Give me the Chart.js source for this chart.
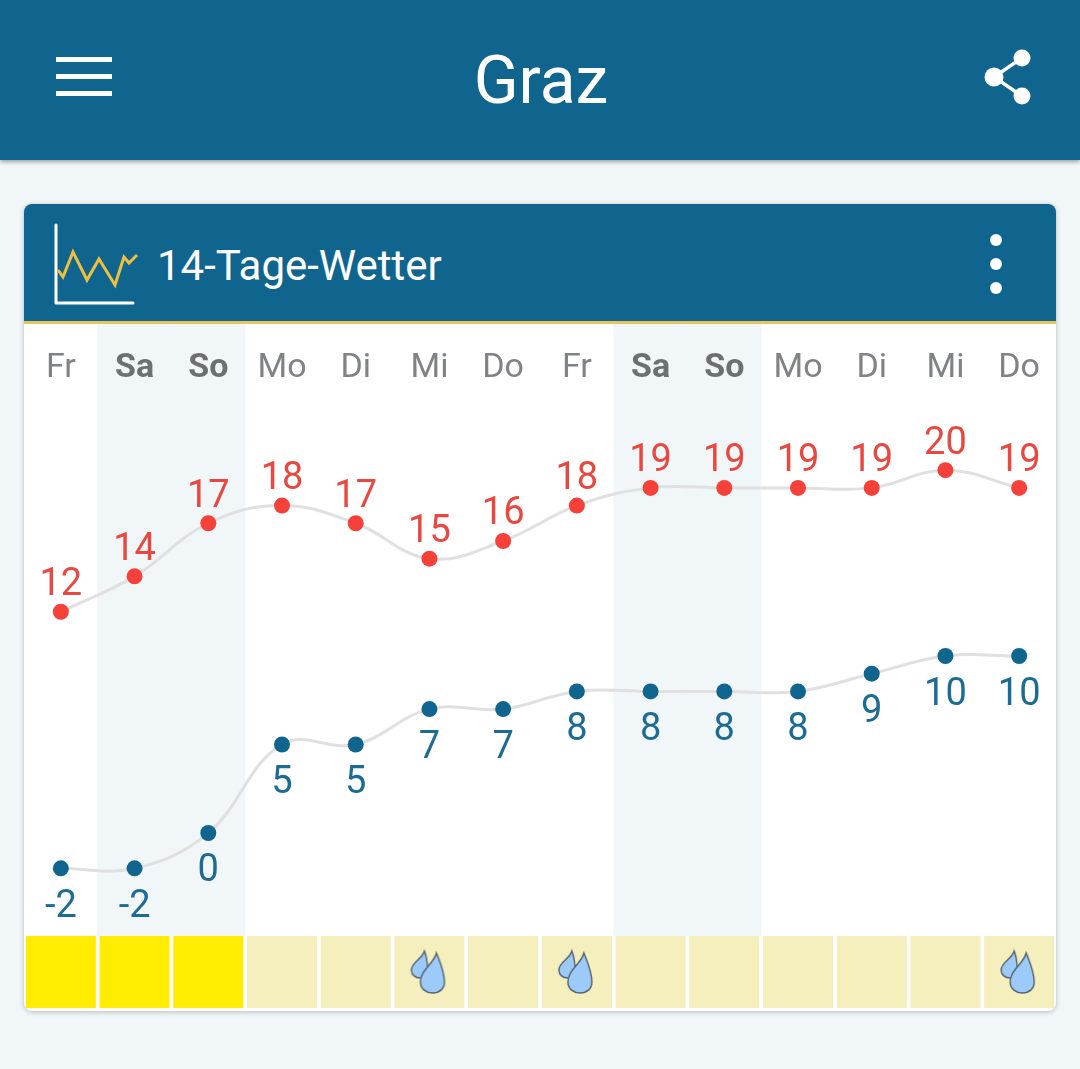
<!DOCTYPE html>
<html lang="de">
<head>
<meta charset="utf-8">
<title>Graz</title>
<script src="https://cdn.jsdelivr.net/npm/chart.js@4/dist/chart.umd.min.js"></script>
<style>
  html, body { margin: 0; padding: 0; }
  body { width: 1080px; height: 1069px; background: #f1f6f9; position: relative; overflow: hidden; font-family: Roboto, sans-serif; }
  .appbar { position: absolute; left: 0; top: 0; width: 1080px; height: 160px; background: #10658f; box-shadow: 0 2px 4px rgba(0,0,0,.35); }
  .appbar h1 { margin: 0; position: absolute; left: 0; width: 1082px; top: 42px; line-height: 78px; text-align: center; font-size: 66px; font-weight: 400; color: #fff; }
  .card { position: absolute; left: 24px; top: 204px; width: 1032px; height: 807px; background: #fff; border-radius: 8px; box-shadow: 0 1px 5px rgba(0,0,0,.25); overflow: hidden; }
  .cardhead { position: absolute; left: 0; top: 0; width: 1032px; height: 117px; background: #10658f; border-bottom: 3px solid #e9c45c; }
  .cardhead span { position: absolute; left: 133px; top: 37px; line-height: 50px; font-size: 42px; color: #fff; }
  canvas { position: absolute; left: 0; top: 120px; }
  svg { position: absolute; left: 0; top: 0; }
</style>
</head>
<body>
<div class="appbar">
  <h1>Graz</h1>
  <svg width="1080" height="160">
    <g fill="#fff">
      <rect x="56" y="57" width="56" height="5"/>
      <rect x="56" y="74" width="56" height="5"/>
      <rect x="56" y="91" width="56" height="5"/>
      <circle cx="1022" cy="58" r="8.5"/>
      <circle cx="994" cy="77" r="9.5"/>
      <circle cx="1022" cy="96" r="8.5"/>
    </g>
    <path d="M1022 58 L994 77 L1022 96" fill="none" stroke="#fff" stroke-width="3.5"/>
  </svg>
</div>
<div class="card">
  <div class="cardhead">
    <svg width="1032" height="117">
      <path d="M32 21 V99 H109" fill="none" stroke="#fff" stroke-width="3" stroke-linecap="round" stroke-linejoin="round"/>
      <path d="M34 66 L39 73 L49 48 L63 76 L75 55 L91 81 L100 53 L105 59 L113 51" fill="none" stroke="#efbf3f" stroke-width="3"/>
      <g fill="#fff">
        <circle cx="972" cy="36" r="6"/>
        <circle cx="972" cy="60" r="6"/>
        <circle cx="972" cy="84" r="6"/>
      </g>
    </svg>
    <span>14-Tage-Wetter</span>
  </div>
  <canvas id="chartWetter" width="1032" height="684"></canvas>
</div>

<script>
const days = ['Fr', 'Sa', 'So', 'Mo', 'Di', 'Mi', 'Do', 'Fr', 'Sa', 'So', 'Mo', 'Di', 'Mi', 'Do'];
const highs = [12, 14, 17, 18, 17, 15, 16, 18, 19, 19, 19, 19, 20, 19];
const lows = [-2, -2, 0, 5, 5, 7, 7, 8, 8, 8, 8, 9, 10, 10];
const weekend = [0, 1, 1, 0, 0, 0, 0, 0, 1, 1, 0, 0, 0, 0];
const sunny = [1, 1, 1, 0, 0, 0, 0, 0, 0, 0, 0, 0, 0, 0];
const rain = [0, 0, 0, 0, 0, 1, 0, 1, 0, 0, 0, 0, 0, 1];

// zwei Tropfen als Punkt-Symbol
const dropIcon = document.createElement('canvas');
dropIcon.width = 42;
dropIcon.height = 46;
(() => {
  const c = dropIcon.getContext('2d');
  c.lineWidth = 1.4;
  c.strokeStyle = '#55636e';
  c.fillStyle = '#9ccafa';
  const small = new Path2D('M16 2 C14 10 3 13 3 21 C3 26 7 29 12 29 C17 29 19 24 19 20 C19 13 18 7 16 2 Z');
  const big = new Path2D('M28 4 C26 14 12 21 12 33 C12 40 18 44 24 44 C31 44 36 40 36 33 C36 22 31 12 28 4 Z');
  c.fill(small); c.stroke(small);
  c.fill(big); c.stroke(big);
})();

// Zahlen ueber/unter den Punkten
const valueLabels = {
  id: 'valueLabels',
  afterDatasetsDraw(chart) {
    const c = chart.ctx;
    c.save();
    c.font = '38px Roboto';
    c.textAlign = 'center';
    c.textBaseline = 'middle';
    chart.data.datasets.forEach((ds, i) => {
      if (!ds.labelOffset) return;
      c.fillStyle = ds.labelColor;
      chart.getDatasetMeta(i).data.forEach((pt, j) => {
        c.fillText(String(ds.data[j]), pt.x, pt.y + ds.labelOffset);
      });
    });
    c.restore();
  }
};

new Chart(document.getElementById('chartWetter').getContext('2d'), {
  data: {
    labels: days,
    datasets: [
      { type: 'line', label: 'Max', data: highs, yAxisID: 'yHigh', order: 1, borderColor: '#e0e0e0', borderWidth: 3, tension: 0.4, pointRadius: 8, pointBorderWidth: 0, pointBackgroundColor: '#f5413a', labelOffset: -26, labelColor: '#e8483f' },
      { type: 'line', label: 'Min', data: lows, yAxisID: 'yLow', order: 1, borderColor: '#e0e0e0', borderWidth: 3, tension: 0.4, pointRadius: 8, pointBorderWidth: 0, pointBackgroundColor: '#10658f', labelOffset: 39, labelColor: '#1c6b95' },
      { type: 'line', label: 'Regen', data: rain.map(r => r ? 0.5 : null), yAxisID: 'yTile', order: 2, showLine: false, pointStyle: dropIcon },
      { type: 'bar', label: 'Sonne', data: sunny.map(() => 1), yAxisID: 'yTile', order: 3, grouped: false, barPercentage: 0.95, categoryPercentage: 1, backgroundColor: sunny.map(s => s ? '#ffec00' : '#f5eebd') },
      { type: 'bar', label: 'Wochenende', data: weekend.map(w => w ? [1, 9.5] : null), yAxisID: 'yTile', order: 4, grouped: false, barPercentage: 1, categoryPercentage: 1, backgroundColor: '#f1f6f9' }
    ]
  },
  options: {
    responsive: false,
    animation: false,
    layout: { padding: 0, autoPadding: false },
    plugins: { legend: { display: false }, tooltip: { enabled: false } },
    scales: {
      x: {
        type: 'category',
        position: 'top',
        offset: true,
        grid: { display: false, drawTicks: false },
        border: { display: false },
        // Achse braucht keinen Platz, die Tage liegen im Diagramm
        afterFit: s => { s.height = 0; s.paddingLeft = 0; s.paddingRight = 0; },
        ticks: {
          z: 1,
          mirror: true,
          autoSkip: false,
          maxRotation: 0,
          padding: 24,
          color: ctx => weekend[ctx.index] ? '#6c7073' : '#808285',
          font: ctx => ({ family: 'Roboto', size: 34, weight: weekend[ctx.index] ? 'bold' : 'normal' })
        }
      },
      yHigh: { display: false, min: -10.39, max: 28.26 },
      yLow: { display: false, min: -9.89, max: 28.76 },
      yTile: { display: false, min: 0, max: 9.5 }
    }
  },
  plugins: [valueLabels]
});
</script>
</body>
</html>
